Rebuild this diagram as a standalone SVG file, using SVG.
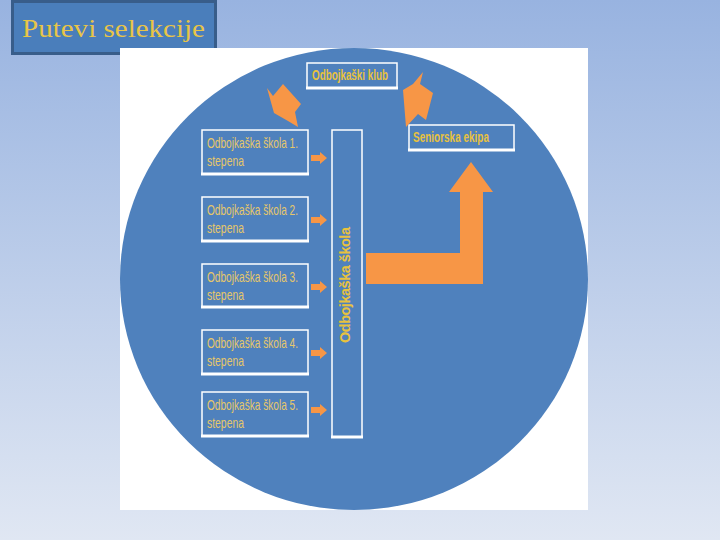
<svg xmlns="http://www.w3.org/2000/svg" width="720" height="540" viewBox="0 0 720 540">
<defs>
<linearGradient id="bg" x1="0" y1="0" x2="0" y2="1">
<stop offset="0" stop-color="#98b3e0"/>
<stop offset="1" stop-color="#e0e7f3"/>
</linearGradient>
<polygon id="sa" points="0,-3 9,-3 9,-6 16,0 9,6 9,3 0,3"/>
</defs>
<style>
.box{fill:none;stroke:#ffffff;stroke-width:1.5}
.bl{stroke:#ffffff;stroke-width:3}
.t{font-family:"Liberation Sans",Arial,sans-serif;font-size:14.5px;fill:#e6c76a}
.b{font-family:"Liberation Sans",Arial,sans-serif;font-size:14.5px;font-weight:bold;fill:#e8c23e}
.or{fill:#f79646}
</style>
<rect width="720" height="540" fill="url(#bg)"/>
<g id="title">
<rect x="12.5" y="1.5" width="203" height="52" fill="#4a7ebb" stroke="#385d8a" stroke-width="3"/>
<text x="22" y="37" font-family="'Liberation Serif','Times New Roman',serif" font-size="25" fill="#e8c547" textLength="183" lengthAdjust="spacingAndGlyphs">Putevi selekcije</text>
</g>
<rect x="120" y="48" width="468" height="462" fill="#ffffff"/>
<ellipse cx="354" cy="279" rx="234" ry="231" fill="#4f81bd"/>
<g id="club">
<rect class="box" x="307" y="63" width="90" height="25"/>
<line class="bl" x1="306" y1="88" x2="398" y2="88"/>
<text class="b" x="312" y="80" textLength="76" lengthAdjust="spacingAndGlyphs">Odbojkaški klub</text>
</g>
<g id="senior">
<rect class="box" x="409" y="125" width="105" height="25"/>
<line class="bl" x1="408" y1="150" x2="515" y2="150"/>
<text class="b" x="413" y="142" textLength="76" lengthAdjust="spacingAndGlyphs">Seniorska ekipa</text>
</g>
<g id="s1">
<rect class="box" x="202" y="130" width="106" height="44"/>
<line class="bl" x1="201" y1="174" x2="309" y2="174"/>
<text class="t" x="207" y="148" textLength="91" lengthAdjust="spacingAndGlyphs">Odbojkaška škola 1.</text>
<text class="t" x="207" y="166" textLength="37" lengthAdjust="spacingAndGlyphs">stepena</text>
</g>
<g id="s2">
<rect class="box" x="202" y="197" width="106" height="44"/>
<line class="bl" x1="201" y1="241" x2="309" y2="241"/>
<text class="t" x="207" y="215" textLength="91" lengthAdjust="spacingAndGlyphs">Odbojkaška škola 2.</text>
<text class="t" x="207" y="233" textLength="37" lengthAdjust="spacingAndGlyphs">stepena</text>
</g>
<g id="s3">
<rect class="box" x="202" y="264" width="106" height="43"/>
<line class="bl" x1="201" y1="307" x2="309" y2="307"/>
<text class="t" x="207" y="282" textLength="91" lengthAdjust="spacingAndGlyphs">Odbojkaška škola 3.</text>
<text class="t" x="207" y="300" textLength="37" lengthAdjust="spacingAndGlyphs">stepena</text>
</g>
<g id="s4">
<rect class="box" x="202" y="330" width="106" height="44"/>
<line class="bl" x1="201" y1="374" x2="309" y2="374"/>
<text class="t" x="207" y="348" textLength="91" lengthAdjust="spacingAndGlyphs">Odbojkaška škola 4.</text>
<text class="t" x="207" y="366" textLength="37" lengthAdjust="spacingAndGlyphs">stepena</text>
</g>
<g id="s5">
<rect class="box" x="202" y="392" width="106" height="44"/>
<line class="bl" x1="201" y1="436" x2="309" y2="436"/>
<text class="t" x="207" y="410" textLength="91" lengthAdjust="spacingAndGlyphs">Odbojkaška škola 5.</text>
<text class="t" x="207" y="428" textLength="37" lengthAdjust="spacingAndGlyphs">stepena</text>
</g>
<g id="school">
<rect class="box" x="332" y="130" width="30" height="307"/>
<line class="bl" x1="331" y1="437" x2="363" y2="437"/>
<text class="b" transform="translate(350,343) rotate(-90)" x="0" y="0" textLength="116" lengthAdjust="spacing">Odbojkaška škola</text>
</g>
<g id="connectors">
<use href="#sa" class="or" x="311" y="158"/>
<use href="#sa" class="or" x="311" y="220"/>
<use href="#sa" class="or" x="311" y="287"/>
<use href="#sa" class="or" x="311" y="353"/>
<use href="#sa" class="or" x="311" y="410"/>
<polygon class="or" points="267,88 273,96 283,84 301,104 295,112 298,127 288,121 274,113"/>
<polygon class="or" points="423,72 420,84 433,93 426,120 418,114 406,127 403,90 413,84"/>
<polygon class="or" points="366,253 460,253 460,192 449,192 471,162 493,192 483,192 483,284 366,284"/>
</g>
</svg>
